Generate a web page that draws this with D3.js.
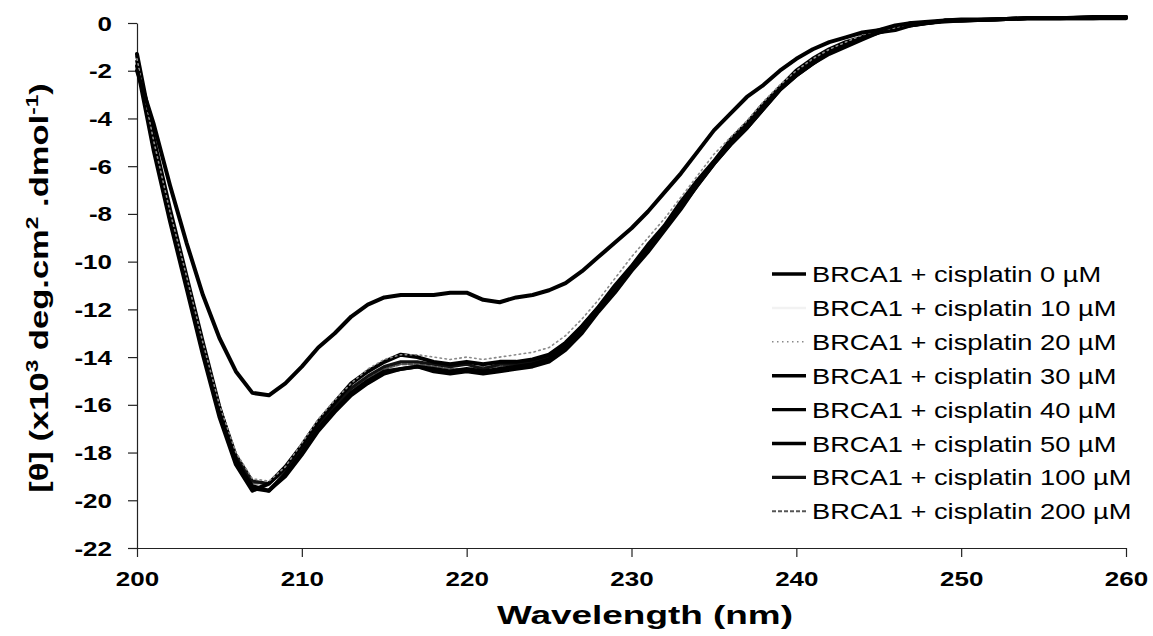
<!DOCTYPE html>
<html><head><meta charset="utf-8">
<script src="https://cdn.jsdelivr.net/npm/d3@7"></script>
<style>
body{margin:0;background:#fff}
svg{display:block}
text{font-family:"Liberation Sans",Arial,Helvetica,sans-serif;fill:#000}
</style>
</head><body>
<svg id="chart" width="1153" height="636"></svg>
<script>
// ---------- data ----------
const wavelength = [200,201,202,203,204,205,206,207,208,209,210,211,212,213,214,215,216,217,218,219,220,221,222,223,224,225,226,227,228,229,230,231,232,233,234,235,236,237,238,239,240,241,242,243,244,245,246,247,248,249,250,252,254,256,258,260];

const seriesNames = ["BRCA1 + cisplatin 0 µM","BRCA1 + cisplatin 10 µM","BRCA1 + cisplatin 20 µM","BRCA1 + cisplatin 30 µM","BRCA1 + cisplatin 40 µM","BRCA1 + cisplatin 50 µM","BRCA1 + cisplatin 100 µM","BRCA1 + cisplatin 200 µM"];

const cis0 = [-2.0,-4.2,-6.8,-9.2,-11.4,-13.2,-14.6,-15.5,-15.6,-15.1,-14.4,-13.6,-13.0,-12.3,-11.8,-11.5,-11.4,-11.4,-11.4,-11.3,-11.3,-11.6,-11.7,-11.5,-11.4,-11.2,-10.9,-10.4,-9.8,-9.2,-8.6,-7.9,-7.1,-6.3,-5.4,-4.5,-3.8,-3.1,-2.6,-2.0,-1.5,-1.1,-0.8,-0.6,-0.4,-0.3,-0.1,0.0,0.05,0.1,0.1,0.15,0.2,0.2,0.2,0.25];
const cis10 = [-1.6,-5.1,-8.1,-10.9,-13.7,-16.3,-18.3,-19.4,-19.4,-18.8,-17.9,-16.9,-16.1,-15.4,-14.9,-14.5,-14.3,-14.3,-14.4,-14.5,-14.4,-14.4,-14.4,-14.3,-14.2,-14.0,-13.5,-12.7,-11.9,-11.1,-10.2,-9.4,-8.6,-7.6,-6.7,-5.8,-5.0,-4.3,-3.5,-2.7,-2.1,-1.6,-1.2,-0.9,-0.6,-0.4,-0.2,-0.1,0.0,0.1,0.1,0.15,0.2,0.2,0.2,0.25];
const cis20 = [-1.5,-4.9,-7.9,-10.6,-13.4,-16.0,-18.0,-19.1,-19.2,-18.6,-17.6,-16.6,-15.8,-15.1,-14.5,-14.1,-13.9,-13.9,-14.0,-14.1,-14.0,-14.1,-14.0,-13.9,-13.8,-13.6,-13.1,-12.4,-11.6,-10.7,-9.8,-9.0,-8.2,-7.3,-6.4,-5.5,-4.8,-4.1,-3.3,-2.6,-2.0,-1.5,-1.1,-0.8,-0.5,-0.3,-0.2,0.0,0.05,0.1,0.1,0.15,0.2,0.2,0.2,0.25];
const cis30 = [-1.3,-4.8,-7.8,-10.6,-13.4,-16.1,-18.3,-19.5,-19.6,-18.9,-18.0,-17.0,-16.2,-15.5,-15.0,-14.6,-14.5,-14.4,-14.5,-14.6,-14.5,-14.6,-14.5,-14.4,-14.3,-14.1,-13.6,-12.8,-12.0,-11.2,-10.3,-9.5,-8.6,-7.7,-6.8,-5.9,-5.1,-4.4,-3.6,-2.8,-2.2,-1.7,-1.2,-0.9,-0.6,-0.4,-0.2,-0.1,0.0,0.1,0.15,0.15,0.2,0.2,0.25,0.25];
const cis40 = [-1.8,-5.3,-8.3,-11.1,-13.9,-16.5,-18.5,-19.6,-19.3,-18.6,-17.7,-16.7,-15.9,-15.1,-14.6,-14.2,-13.9,-14.0,-14.2,-14.3,-14.2,-14.3,-14.2,-14.2,-14.1,-13.9,-13.4,-12.7,-11.9,-11.0,-10.2,-9.3,-8.5,-7.5,-6.6,-5.8,-4.9,-4.2,-3.4,-2.7,-2.0,-1.5,-1.1,-0.8,-0.6,-0.3,-0.2,0.0,0.0,0.1,0.1,0.15,0.2,0.2,0.2,0.2];
const cis50 = [-1.6,-5.1,-8.2,-10.9,-13.7,-16.3,-18.4,-19.4,-19.6,-19.0,-18.1,-17.1,-16.3,-15.6,-15.1,-14.7,-14.5,-14.4,-14.6,-14.7,-14.6,-14.7,-14.6,-14.5,-14.4,-14.2,-13.7,-13.0,-12.1,-11.3,-10.4,-9.6,-8.7,-7.8,-6.8,-5.9,-5.1,-4.4,-3.6,-2.8,-2.2,-1.7,-1.3,-1.0,-0.7,-0.4,-0.3,-0.1,0.0,0.05,0.1,0.15,0.2,0.2,0.25,0.25];
const cis100 = [-1.4,-4.9,-7.9,-10.7,-13.5,-16.1,-18.1,-19.2,-19.3,-18.7,-17.8,-16.8,-16.0,-15.3,-14.8,-14.4,-14.2,-14.2,-14.3,-14.4,-14.3,-14.5,-14.3,-14.3,-14.2,-14.0,-13.5,-12.7,-11.9,-11.1,-10.2,-9.4,-8.6,-7.6,-6.7,-5.8,-5.0,-4.3,-3.5,-2.7,-2.1,-1.6,-1.2,-0.9,-0.6,-0.4,-0.2,-0.1,0.0,0.1,0.1,0.15,0.2,0.2,0.2,0.25];
const cis200 = [-1.5,-5.0,-8.1,-10.9,-13.7,-16.3,-18.3,-19.3,-19.3,-18.8,-17.9,-16.9,-16.1,-15.4,-14.9,-14.5,-14.3,-14.3,-14.4,-14.5,-14.5,-14.4,-14.4,-14.3,-14.2,-14.0,-13.5,-12.7,-11.9,-11.1,-10.2,-9.4,-8.6,-7.6,-6.7,-5.8,-5.0,-4.3,-3.5,-2.7,-2.1,-1.6,-1.2,-0.9,-0.6,-0.4,-0.2,-0.1,0.0,0.1,0.1,0.15,0.2,0.2,0.2,0.25];

const xTicks = [200,210,220,230,240,250,260];
const yTicks = [0,-2,-4,-6,-8,-10,-12,-14,-16,-18,-20,-22];

// ---------- styles ----------
const allSeries = [cis0,cis10,cis20,cis30,cis40,cis50,cis100,cis200];
const strokeColors = ["#000","#f2f2f2","#8a8a8a","#000","#000","#000","#111","#555"];
const strokeWidths = [4,2.5,1.6,4,4,3.6,3.2,2];
const strokeDashes = [null,null,"1.5,3.5",null,null,null,null,"4,2"];
const drawOrder = [1,7,6,5,4,3,2,0];

const svg = d3.select("#chart");
svg.append("rect").attr("width",1153).attr("height",636).attr("fill","#fff");

const x = d3.scaleLinear().domain([200,260]).range([137,1126]);
const y = d3.scaleLinear().domain([-22,0]).range([548,23]);
const SX = 1.3;

// axes
const yAxis = svg.append("g").attr("transform","translate(137,0)")
  .call(d3.axisLeft(y).tickValues(yTicks).tickSize(9).tickSizeOuter(0).tickFormat(d=>d));
const xAxis = svg.append("g").attr("transform","translate(0,548)")
  .call(d3.axisBottom(x).tickValues(xTicks).tickSize(9).tickSizeOuter(0).tickFormat(d=>d));
[yAxis,xAxis].forEach(g=>{
  g.attr("font-family",null).attr("font-size",null);
  g.selectAll("path,line").attr("stroke","#222").attr("stroke-width",1.2);
});
yAxis.selectAll("text").attr("x",null).attr("dy",null)
  .attr("transform","translate(-25,7) scale("+SX+",1)")
  .attr("text-anchor","end").style("font-size","20px").style("font-weight","bold");
xAxis.selectAll("text").attr("y",null).attr("dy",null)
  .attr("transform","translate(0,38) scale("+SX+",1)")
  .attr("text-anchor","middle").style("font-size","20px").style("font-weight","bold");

// lines
const line = d3.line().x((d,i)=>x(wavelength[i])).y(d=>y(d)).curve(d3.curveLinear);
const plot = svg.append("g");
drawOrder.forEach(k=>{
  plot.append("path").datum(allSeries[k]).attr("d",line)
    .attr("fill","none").attr("stroke",strokeColors[k])
    .attr("stroke-width",strokeWidths[k])
    .attr("stroke-dasharray",strokeDashes[k])
    .attr("stroke-linejoin","round").attr("stroke-linecap","round");
});

// axis titles
svg.append("text").attr("transform","translate(645,624) scale(1.42,1)")
  .attr("text-anchor","middle").style("font-size","26px").style("font-weight","bold")
  .text("Wavelength (nm)");

const yt = svg.append("text").attr("transform","translate(48,288) rotate(-90) scale(1.33,1)")
  .attr("text-anchor","middle").style("font-size","26px").style("font-weight","bold");
yt.append("tspan").text("[θ] (x10");
yt.append("tspan").attr("dy",-10).style("font-size","17px").text("3");
yt.append("tspan").attr("dy",10).text(" deg.cm");
yt.append("tspan").attr("dy",-10).style("font-size","17px").text("2");
yt.append("tspan").attr("dy",10).text(" .dmol");
yt.append("tspan").attr("dy",-10).style("font-size","17px").text("-1");
yt.append("tspan").attr("dy",10).text(")");

// legend
const legend = svg.append("g");
seriesNames.forEach((name,i)=>{
  const ly = 274 + i*33.9;
  legend.append("line").attr("x1",772).attr("x2",806).attr("y1",ly).attr("y2",ly)
    .attr("stroke",strokeColors[i]).attr("stroke-width",Math.min(strokeWidths[i],3.4))
    .attr("stroke-dasharray",strokeDashes[i]);
  legend.append("text").attr("transform","translate(812,"+(ly+8)+") scale(1.24,1)")
    .style("font-size","22px").text(name);
});
</script>
</body></html>
